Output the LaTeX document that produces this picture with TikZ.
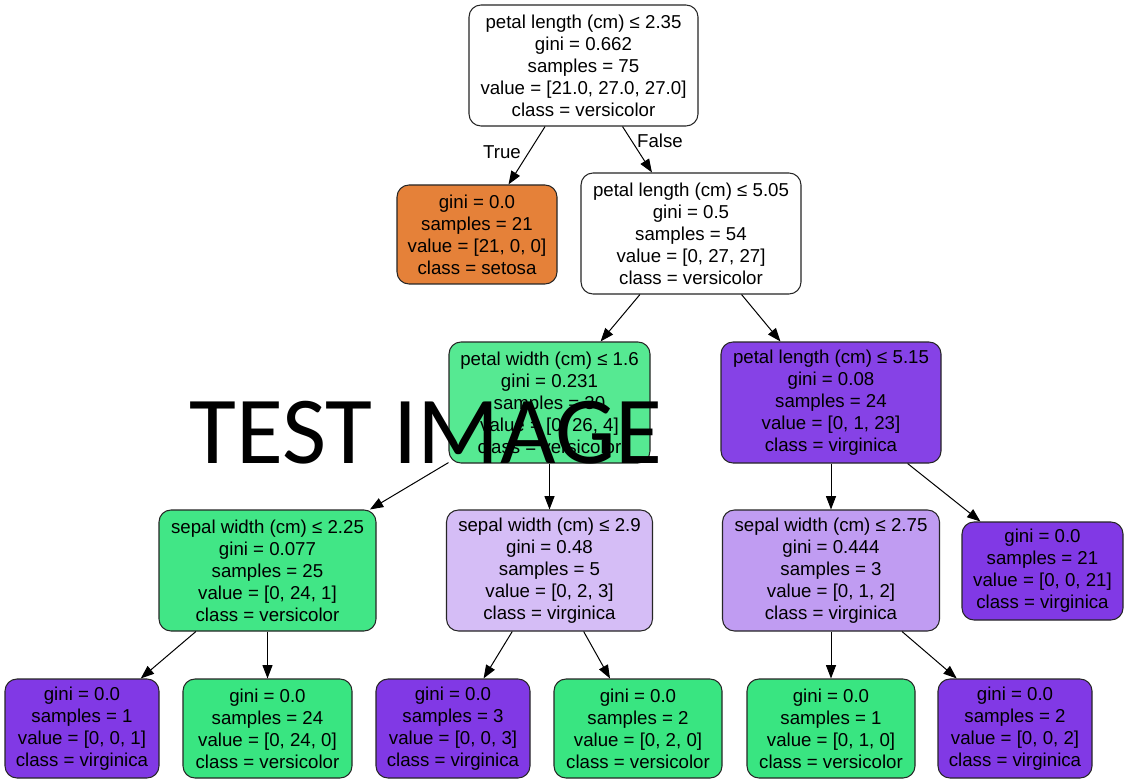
\documentclass[tikz,border=0pt]{standalone}
\usepackage{fontspec}
\setmainfont{Liberation Sans}
\newfontfamily\testfont{Carlito}
\usetikzlibrary{arrows.meta}
\definecolor{cset}{HTML}{E58139}
\definecolor{cver}{HTML}{39E581}
\definecolor{cvir}{HTML}{8139E5}
\definecolor{cnthree}{HTML}{56E992}
\definecolor{cnfour}{HTML}{8642E6}
\definecolor{cnfive}{HTML}{41E686}
\definecolor{cnsix}{HTML}{D5BDF6}
\definecolor{cnseven}{HTML}{C09CF2}
\tikzset{
  tn/.style={draw=black!85, line width=0.8pt, rounded corners=9pt, align=center,
    inner sep=0pt, font=\fontsize{14}{16.5}\selectfont},
  sz/.style 2 args={minimum width={#1*0.75pt}, minimum height={#2*0.75pt}},
  edge/.style={line width=0.75pt, -{Triangle[length=10pt,width=7.5pt]}},
  elabel/.style={font=\fontsize{14}{16.5}\selectfont, inner sep=0pt},
}
\begin{document}
\begin{tikzpicture}[x=0.75pt,y=-0.75pt]
\useasboundingbox (0,0) rectangle (1128,784);
\fill[white] (0,0) rectangle (1128,784);

\node[tn, sz={229}{121}, fill=white] (root) at (583.5,65.5)
  {petal length (cm) ≤ 2.35\\gini = 0.662\\samples = 75\\value = [21.0, 27.0, 27.0]\\class = versicolor};
\node[tn, sz={160}{99}, fill=cset] (n1) at (477,234.5)
  {gini = 0.0\\samples = 21\\value = [21, 0, 0]\\class = setosa};
\node[tn, sz={220}{121}, fill=white] (n2) at (691,233.5)
  {petal length (cm) ≤ 5.05\\gini = 0.5\\samples = 54\\value = [0, 27, 27]\\class = versicolor};
\node[tn, sz={201}{121}, fill=cnthree] (n3) at (549.5,402.5)
  {petal width (cm) ≤ 1.6\\gini = 0.231\\samples = 30\\value = [0, 26, 4]\\class = versicolor};
\node[tn, sz={220}{121}, fill=cnfour] (n4) at (831,402.5)
  {petal length (cm) ≤ 5.15\\gini = 0.08\\samples = 24\\value = [0, 1, 23]\\class = virginica};
\node[tn, sz={217}{121}, fill=cnfive] (n5) at (267.5,570.5)
  {sepal width (cm) ≤ 2.25\\gini = 0.077\\samples = 25\\value = [0, 24, 1]\\class = versicolor};
\node[tn, sz={206}{121}, fill=cnsix] (n6) at (549.5,570.5)
  {sepal width (cm) ≤ 2.9\\gini = 0.48\\samples = 5\\value = [0, 2, 3]\\class = virginica};
\node[tn, sz={217}{121}, fill=cnseven] (n7) at (831,570.5)
  {sepal width (cm) ≤ 2.75\\gini = 0.444\\samples = 3\\value = [0, 1, 2]\\class = virginica};
\node[tn, sz={161}{98}, fill=cvir] (n8) at (1042.5,571)
  {gini = 0.0\\samples = 21\\value = [0, 0, 21]\\class = virginica};
\node[tn, sz={154}{99}, fill=cvir] (l1) at (82,728.5)
  {gini = 0.0\\samples = 1\\value = [0, 0, 1]\\class = virginica};
\node[tn, sz={169}{99}, fill=cver] (l2) at (267.5,728.5)
  {gini = 0.0\\samples = 24\\value = [0, 24, 0]\\class = versicolor};
\node[tn, sz={154}{99}, fill=cvir] (l3) at (453,728.5)
  {gini = 0.0\\samples = 3\\value = [0, 0, 3]\\class = virginica};
\node[tn, sz={168}{99}, fill=cver] (l4) at (638,728.5)
  {gini = 0.0\\samples = 2\\value = [0, 2, 0]\\class = versicolor};
\node[tn, sz={168}{99}, fill=cver] (l5) at (831,728.5)
  {gini = 0.0\\samples = 1\\value = [0, 1, 0]\\class = versicolor};
\node[tn, sz={154}{99}, fill=cvir] (l6) at (1015,728.5)
  {gini = 0.0\\samples = 2\\value = [0, 0, 2]\\class = virginica};

\draw[edge] (root) -- (n1);
\draw[edge] (root) -- (n2);
\draw[edge] (n2) -- (n3);
\draw[edge] (n2) -- (n4);
\draw[edge] (n3) -- (n5);
\draw[edge] (n3) -- (n6);
\draw[edge] (n4) -- (n7);
\draw[edge] (n4) -- (n8);
\draw[edge] (n5) -- (l1);
\draw[edge] (n5) -- (l2);
\draw[edge] (n6) -- (l3);
\draw[edge] (n6) -- (l4);
\draw[edge] (n7) -- (l5);
\draw[edge] (n7) -- (l6);

\node[elabel] (ltrue) at (502,152) {True};
\node[elabel] (lfalse) at (660,141) {False};

\node[font=\testfont\fontsize{72}{80}\selectfont, inner sep=0pt, anchor=base west] (test) at (189,463) {TEST IMAGE};
\end{tikzpicture}
\end{document}
